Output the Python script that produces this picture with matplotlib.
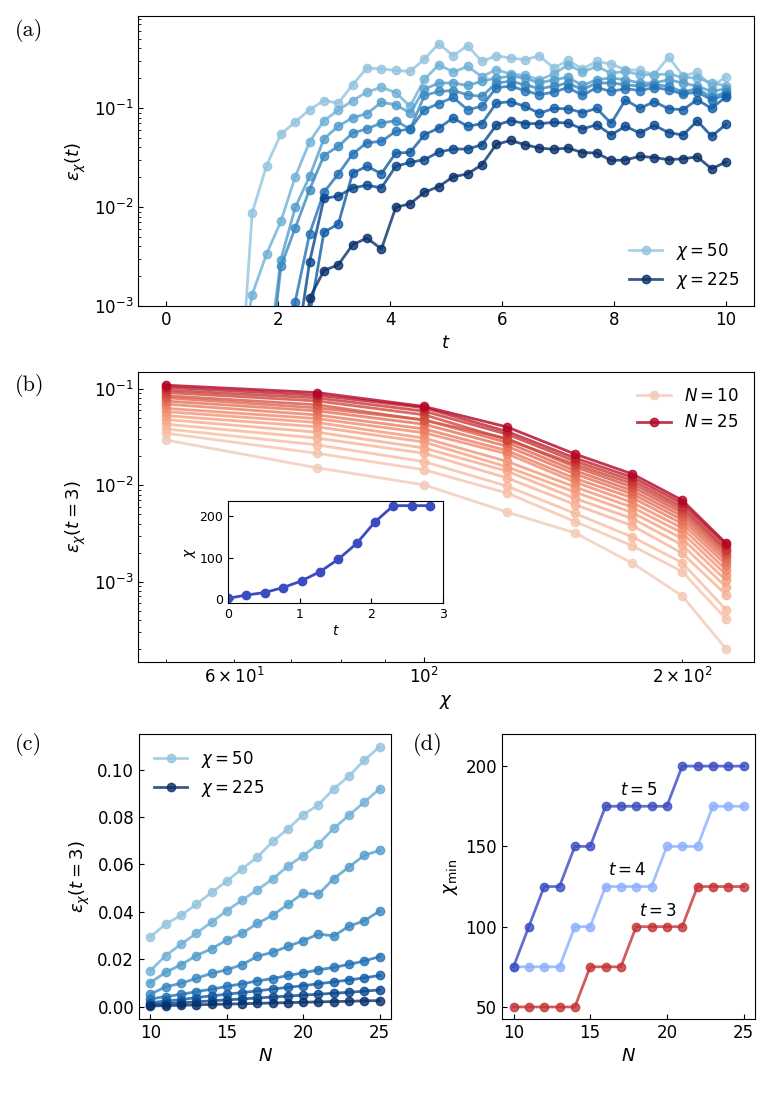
import numpy as np
import matplotlib
matplotlib.use("Agg")
import matplotlib.pyplot as plt

nan = np.nan

# --- (a) truncation error vs time, one series per bond dimension ---
t = np.linspace(0, 10, 40)
chi_values = [50, 75, 100, 125, 150, 175, 200, 225]

eps_chi50 = [nan, nan, nan, nan, nan, 6e-5, 8.7e-3, 0.0261, 0.0546, 0.0721,
             0.0962, 0.119, 0.112, 0.172, 0.254, 0.248, 0.240, 0.234, 0.313, 0.447,
             0.337, 0.426, 0.296, 0.337, 0.320, 0.308, 0.337, 0.254, 0.303, 0.248,
             0.296, 0.278, 0.244, 0.240, 0.217, 0.327, 0.212, 0.229, 0.165, 0.206]
eps_chi75 = [nan, nan, nan, nan, nan, 2e-4, 1.30e-3, 3.35e-3, 7.16e-3, 0.0202,
             0.0455, 0.0746, 0.0951, 0.119, 0.145, 0.162, 0.143, 0.104, 0.195, 0.274,
             0.231, 0.263, 0.208, 0.244, 0.220, 0.214, 0.193, 0.220, 0.274, 0.231,
             0.263, 0.225, 0.234, 0.217, 0.217, 0.220, 0.204, 0.201, 0.179, 0.168]
eps_chi100 = [nan, nan, nan, nan, nan, nan, nan, 2e-4, 2.94e-3, 9.9e-3,
              0.0204, 0.0489, 0.0656, 0.0798, 0.0879, 0.114, 0.108, 0.0889, 0.155, 0.179,
              0.179, 0.169, 0.186, 0.201, 0.209, 0.201, 0.179, 0.193, 0.204, 0.169,
              0.193, 0.201, 0.193, 0.179, 0.179, 0.193, 0.179, 0.166, 0.147, 0.157]
eps_chi125 = [nan, nan, nan, nan, nan, nan, nan, 1.2e-4, 2.51e-3, 6.14e-3,
              0.0150, 0.0331, 0.0410, 0.0558, 0.0617, 0.0705, 0.0745, 0.0610, 0.134, 0.147,
              0.150, 0.136, 0.131, 0.179, 0.186, 0.172, 0.157, 0.166, 0.179, 0.153,
              0.179, 0.179, 0.172, 0.166, 0.172, 0.166, 0.145, 0.157, 0.128, 0.145]
eps_chi150 = [nan, nan, nan, nan, nan, nan, nan, nan, 5e-5, 1.11e-3,
              5.37e-3, 0.0141, 0.0216, 0.0344, 0.0447, 0.0459, 0.0581, 0.0614, 0.0962, 0.111,
              0.128, 0.0962, 0.104, 0.161, 0.166, 0.150, 0.136, 0.145, 0.161, 0.134,
              0.161, 0.147, 0.157, 0.150, 0.161, 0.153, 0.138, 0.145, 0.121, 0.136]
eps_chi175 = [nan, nan, nan, nan, nan, nan, nan, nan, nan, 1e-5,
              8e-4, 5.58e-3, 6.73e-3, 0.0220, 0.0258, 0.0217, 0.0351, 0.0356, 0.0537, 0.0628,
              0.0793, 0.0653, 0.0695, 0.112, 0.116, 0.104, 0.0883, 0.0991, 0.0982, 0.0899,
              0.0989, 0.070, 0.121, 0.0991, 0.116, 0.0982, 0.0962, 0.121, 0.0991, 0.130]
eps_chi200 = [nan, nan, nan, nan, nan, nan, nan, nan, nan, 3e-4,
              2.78e-3, 0.0122, 0.0129, 0.0156, 0.0166, 0.0156, 0.0258, 0.0282, 0.0301, 0.0359,
              0.0385, 0.0385, 0.0426, 0.0670, 0.0746, 0.0697, 0.0695, 0.0716, 0.0705, 0.0614,
              0.0678, 0.0537, 0.0653, 0.0558, 0.0668, 0.0565, 0.0533, 0.0740, 0.0518, 0.0684]
eps_chi225 = [nan, nan, nan, nan, nan, nan, nan, nan, nan, 3e-5,
              1.2e-3, 2.28e-3, 2.61e-3, 4.16e-3, 4.86e-3, 3.76e-3, 9.9e-3, 0.0108, 0.0141, 0.0161,
              0.0202, 0.0216, 0.0267, 0.0429, 0.0470, 0.0426, 0.0394, 0.0383, 0.0394, 0.0355,
              0.0351, 0.0295, 0.0299, 0.0325, 0.0316, 0.0301, 0.0307, 0.0321, 0.0243, 0.0285]
eps_t = [eps_chi50, eps_chi75, eps_chi100, eps_chi125,
         eps_chi150, eps_chi175, eps_chi200, eps_chi225]

# --- (b)/(c) error at t = 3, rows: chi, columns: N = 10..25 ---
N_values = list(range(10, 26))
eps3_chi50 = [0.0295, 0.0348, 0.0385, 0.0431, 0.0482, 0.0529, 0.0582, 0.0630,
              0.0697, 0.0750, 0.0810, 0.0852, 0.0919, 0.0973, 0.1040, 0.1096]
eps3_chi75 = [0.0152, 0.0215, 0.0263, 0.0309, 0.0356, 0.0405, 0.0449, 0.0493,
              0.0538, 0.0593, 0.0637, 0.0686, 0.0752, 0.0808, 0.0863, 0.0919]
eps3_chi100 = [0.0101, 0.0145, 0.0176, 0.0215, 0.0244, 0.0281, 0.0309, 0.0351,
               0.0385, 0.0431, 0.0479, 0.0474, 0.0540, 0.0589, 0.0639, 0.0659]
eps3_chi125 = [0.00526, 0.0083, 0.0098, 0.0119, 0.0140, 0.0155, 0.0177, 0.0212,
               0.0229, 0.0254, 0.0278, 0.0306, 0.0298, 0.0339, 0.0362, 0.0403]
eps3_chi150 = [0.0032, 0.0042, 0.0051, 0.0063, 0.0073, 0.0085, 0.0096, 0.0108,
               0.0118, 0.0131, 0.0142, 0.0155, 0.0165, 0.0178, 0.0192, 0.0211]
eps3_chi175 = [0.00155, 0.00235, 0.0029, 0.0038, 0.0045, 0.0052, 0.0059, 0.0066,
               0.0074, 0.0081, 0.0088, 0.0096, 0.0104, 0.0112, 0.0121, 0.0131]
eps3_chi200 = [0.00071, 0.00127, 0.00157, 0.00197, 0.0024, 0.0028, 0.0032, 0.0036,
               0.0040, 0.0044, 0.0048, 0.0052, 0.0056, 0.0060, 0.0065, 0.0070]
eps3_chi225 = [0.0002, 0.00041, 0.00051, 0.00073, 0.00088, 0.00103, 0.00118, 0.00133,
               0.0015, 0.00165, 0.0018, 0.00195, 0.0021, 0.0022, 0.0024, 0.0025]
eps3 = np.array([eps3_chi50, eps3_chi75, eps3_chi100, eps3_chi125,
                 eps3_chi150, eps3_chi175, eps3_chi200, eps3_chi225])

# --- inset: bond dimension vs time ---
t_inset = t[:12]
chi_inset = [2, 10, 16, 28, 44, 66, 96, 134, 186, 225, 225, 225]

# --- (d) minimal bond dimension ---
chimin_t3 = [50, 50, 50, 50, 50, 75, 75, 75, 100, 100, 100, 100, 125, 125, 125, 125]
chimin_t4 = [75, 75, 75, 75, 100, 100, 125, 125, 125, 125, 150, 150, 150, 175, 175, 175]
chimin_t5 = [75, 100, 125, 125, 150, 150, 175, 175, 175, 175, 175, 200, 200, 200, 200, 200]

blues = plt.cm.Blues(np.linspace(0.4, 1.0, len(chi_values)))
reds = plt.cm.coolwarm(np.linspace(0.6, 1.0, len(N_values)))
kw = dict(marker="o", ms=6, lw=2, alpha=0.8)

fig = plt.figure(figsize=(7.71, 10.94), dpi=100)
W, H = 771, 1094


def box(l, t_, r, b):
    return [l / W, 1 - b / H, (r - l) / W, (b - t_) / H]


ax1 = fig.add_axes(box(138, 16, 754, 306))
ax2 = fig.add_axes(box(138, 372, 754, 662))
ax3 = fig.add_axes(box(139, 734, 391, 1019))
ax4 = fig.add_axes(box(502, 734, 755, 1019))
axi = fig.add_axes(box(228, 501, 443, 603))

# (a)
for i, (chi, eps) in enumerate(zip(chi_values, eps_t)):
    lab = rf"$\chi = {chi}$" if i in (0, len(chi_values) - 1) else None
    ax1.plot(t, eps, color=blues[i], label=lab, **kw)
ax1.set_yscale("log")
ax1.set_xlim(-0.5, 10.5)
ax1.set_ylim(1e-3, 0.85)
ax1.set_xticks([0, 2, 4, 6, 8, 10])
ax1.set_xlabel(r"$t$", fontsize=13)
ax1.set_ylabel(r"$\varepsilon_\chi(t)$", fontsize=13)
ax1.legend(loc="lower right", frameon=False, fontsize=12)

# (b)
for j, N in enumerate(N_values):
    lab = rf"$N = {N}$" if j in (0, len(N_values) - 1) else None
    ax2.plot(chi_values, eps3[:, j], color=reds[j], label=lab, **kw)
ax2.set_xscale("log")
ax2.set_yscale("log")
ax2.set_xlabel(r"$\chi$", fontsize=13)
ax2.set_ylabel(r"$\varepsilon_\chi(t = 3)$", fontsize=13)
ax2.legend(loc="upper right", frameon=False, fontsize=12)

# inset
axi.plot(t_inset, chi_inset, color=plt.cm.coolwarm(0.0), marker="o", ms=6, lw=2)
axi.set_xlim(0, 3)
axi.set_xticks([0, 1, 2, 3])
axi.set_yticks([0, 100, 200])
axi.set_xlabel(r"$t$", fontsize=10, labelpad=2)
axi.set_ylabel(r"$\chi$", fontsize=10, labelpad=1)
axi.tick_params(direction="in", labelsize=9)

# (c)
for i, chi in enumerate(chi_values):
    lab = rf"$\chi = {chi}$" if i in (0, len(chi_values) - 1) else None
    ax3.plot(N_values, eps3[i], color=blues[i], label=lab, **kw)
ax3.set_xticks([10, 15, 20, 25])
ax3.set_xlabel(r"$N$", fontsize=13)
ax3.set_ylabel(r"$\varepsilon_\chi(t = 3)$", fontsize=13)
ax3.legend(loc="upper left", frameon=False, fontsize=12)

# (d)
ax4.plot(N_values, chimin_t3, color=plt.cm.coolwarm(0.95), **kw)
ax4.plot(N_values, chimin_t4, color=plt.cm.coolwarm(0.25), **kw)
ax4.plot(N_values, chimin_t5, color=plt.cm.coolwarm(0.0), **kw)
ax4.text(18.2, 185, r"$t = 5$", ha="center", va="center", fontsize=12)
ax4.text(17.4, 135, r"$t = 4$", ha="center", va="center", fontsize=12)
ax4.text(19.4, 110, r"$t = 3$", ha="center", va="center", fontsize=12)
ax4.set_ylim(top=220)
ax4.set_xticks([10, 15, 20, 25])
ax4.set_yticks([50, 100, 150, 200])
ax4.set_xlabel(r"$N$", fontsize=13)
ax4.set_ylabel(r"$\chi_{\min}$", fontsize=13)

for ax in (ax1, ax2, ax3, ax4):
    ax.tick_params(which="both", direction="in", labelsize=12)

for lab, x, y in [("(a)", 15, 30), ("(b)", 15, 385), ("(c)", 15, 745), ("(d)", 413, 745)]:
    fig.text(x / W, 1 - y / H, lab, fontsize=16, family="cmr10", va="center")

fig.savefig("out.png", dpi=100)
